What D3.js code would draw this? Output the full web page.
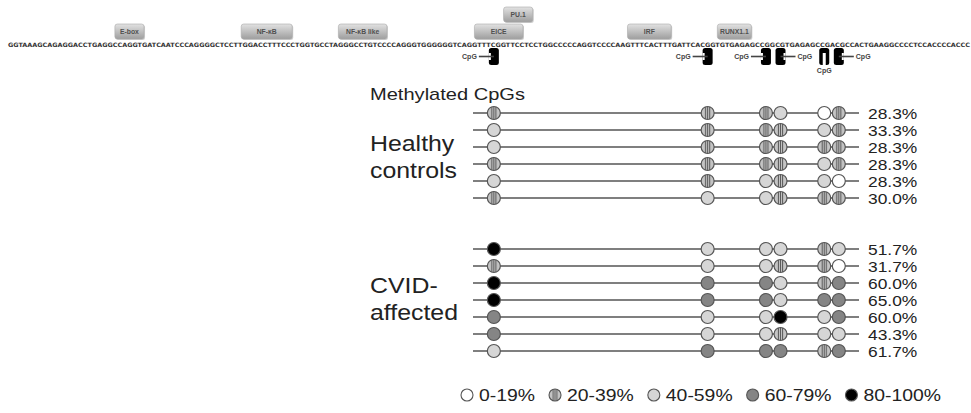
<!DOCTYPE html>
<html>
<head>
<meta charset="utf-8">
<script src="https://cdn.jsdelivr.net/npm/d3@7"></script>
<style>
  html, body { margin: 0; padding: 0; background: #fff; }
  svg { display: block; }
</style>
</head>
<body>
<svg id="chart" width="971" height="413"></svg>
<script>
// Promoter sequence (5'→3')
const sequence = "GGTAAAGCAGAGGACCTGAGGCCAGGTGATCAATCCCAGGGGCTCCTTGGACCTTTCCCTGGTGCCTAGGGCCTGTCCCCAGGGTGGGGGGTCAGGTTTCGGTTCCTCCTGGCCCCCAGGTCCCCAAGTTTCACTTTGATTCACGGTGTGAGAGCCGGCGTGAGAGCCGACGCCACTGAAGGCCCCTCCACCCCACCC";

// Transcription-factor binding motifs (base index ranges)
const motifNames  = ["E-box", "NF-κB", "NF-κB like", "EICE", "PU.1", "IRF", "RUNX1.1"];
const motifStarts = [22, 48, 68, 96, 102, 127.5, 146];
const motifEnds   = [28, 58.5, 78, 106, 108, 136.5, 153];

// CpG dinucleotides (base index of the C)
const cpgSites = [99, 143, 155, 158, 167, 170];

// Methylation classes
const classLabels = ["0-19%", "20-39%", "40-59%", "60-79%", "80-100%"];

// Per-subject methylation class at each CpG
const healthyRows = [
  [1, 1, 1, 2, 0, 1],
  [2, 1, 1, 1, 2, 1],
  [2, 1, 1, 1, 1, 1],
  [1, 1, 1, 1, 2, 1],
  [2, 1, 2, 1, 2, 0],
  [1, 2, 2, 1, 1, 1]
];
const healthyPct = [28.3, 33.3, 28.3, 28.3, 28.3, 30.0];

const cvidRows = [
  [4, 2, 2, 2, 1, 2],
  [1, 2, 2, 1, 1, 0],
  [4, 3, 3, 2, 1, 3],
  [4, 3, 3, 2, 3, 3],
  [3, 2, 2, 4, 2, 3],
  [3, 2, 2, 1, 2, 2],
  [2, 3, 3, 3, 1, 3]
];
const cvidPct = [51.7, 31.7, 60.0, 65.0, 60.0, 43.3, 61.7];

const groupNames = [["Healthy", "controls"], ["CVID-", "affected"]];

// ---------------------------------------------------------------
const svg = d3.select("#chart");
const FONT = "'Liberation Sans', Arial, sans-serif";
const WIDE = 1.18; // horizontal stretch applied to panel text

const x = d3.scaleLinear().domain([0, sequence.length]).range([8, 970]);
const cpgX = i => x(cpgSites[i] + 1);

// text helper: stretch glyphs horizontally by a factor
function wideText(sel, k = WIDE) {
  const w = sel.node().getComputedTextLength();
  sel.attr("textLength", w * k).attr("lengthAdjust", "spacingAndGlyphs");
  return w * k;
}

const defs = svg.append("defs");
const grad = defs.append("linearGradient").attr("id", "boxGrad")
  .attr("x1", 0).attr("y1", 0).attr("x2", 0).attr("y2", 1);
grad.append("stop").attr("offset", "0%").attr("stop-color", "#e2e2e2");
grad.append("stop").attr("offset", "100%").attr("stop-color", "#9e9e9e");

const stripe = defs.append("pattern").attr("id", "stripes")
  .attr("patternContentUnits", "objectBoundingBox")
  .attr("width", 1).attr("height", 1);
stripe.append("rect").attr("width", 1).attr("height", 1).attr("fill", "#c4c4c4");
[0.3, 0.46, 0.62].forEach(p =>
  stripe.append("rect").attr("x", p).attr("width", 0.08).attr("height", 1).attr("fill", "#5a5a5a"));

const classFill = ["#ffffff", "url(#stripes)", "#d6d6d6", "#858585", "#000000"];

// ---- sequence track --------------------------------------------
svg.append("text")
  .attr("x", x(0)).attr("y", 46.5)
  .attr("textLength", x(sequence.length) - x(0))
  .attr("lengthAdjust", "spacingAndGlyphs")
  .attr("font-family", "'DejaVu Sans', sans-serif")
  .attr("font-weight", "bold")
  .attr("font-size", 6)
  .attr("fill", "#333")
  .text(sequence);

// motif boxes; overlapping motifs stack upward
const tiers = [];
motifNames.forEach((name, i) => {
  let tier = 0;
  for (let j = 0; j < i; j++) {
    if (motifStarts[i] < motifEnds[j] && motifEnds[i] > motifStarts[j]) tier = Math.max(tier, tiers[j] + 1);
  }
  tiers.push(tier);
  const x0 = x(motifStarts[i]), x1 = x(motifEnds[i]);
  const y0 = 24 - tier * 17;
  const g = svg.append("g");
  g.append("rect").attr("x", x0 + 1).attr("y", y0 + 1).attr("width", x1 - x0).attr("height", 15)
    .attr("rx", 2.5).attr("fill", "#cfcfcf");
  g.append("rect").attr("x", x0).attr("y", y0).attr("width", x1 - x0).attr("height", 15)
    .attr("rx", 2.5).attr("fill", "url(#boxGrad)").attr("stroke", "#aaa").attr("stroke-width", 0.6);
  g.append("text").attr("x", (x0 + x1) / 2).attr("y", y0 + 10)
    .attr("text-anchor", "middle").attr("font-family", FONT).attr("font-size", 6.8)
    .attr("font-weight", "bold").attr("fill", "#505050").text(name);
});

// CpG markers
const cpgLabelSide = ["left", "left", "left", "right", "below", "right"];
cpgSites.forEach((s, i) => {
  const cx = cpgX(i);
  const side = cpgLabelSide[i];
  const g = svg.append("g");
  const bx = cx - 5, by = 48, bw = 10, bh = 17;
  g.append("rect").attr("x", bx).attr("y", by).attr("width", bw).attr("height", bh)
    .attr("rx", 2.5).attr("fill", "#000");
  if (side === "left" || side === "right") {
    const sx = side === "left" ? bx : bx + bw - 2;
    g.append("rect").attr("x", sx).attr("y", by + 5).attr("width", 2).attr("height", bh - 10).attr("fill", "#fff");
    const lx0 = side === "left" ? bx - 10 : bx + bw + 10;
    g.append("line").attr("x1", lx0).attr("x2", cx).attr("y1", by + bh / 2).attr("y2", by + bh / 2)
      .attr("stroke", "#444").attr("stroke-width", 1.6);
    g.append("text").attr("x", side === "left" ? lx0 - 2 : lx0 + 2).attr("y", by + bh / 2 + 2.4)
      .attr("text-anchor", side === "left" ? "end" : "start")
      .attr("font-family", FONT).attr("font-size", 7).attr("font-weight", "bold").attr("fill", "#444")
      .text("CpG");
  } else {
    g.append("rect").attr("x", bx + 3.5).attr("y", by + 5).attr("width", bw - 7).attr("height", bh - 5).attr("fill", "#fff");
    g.append("text").attr("x", cx).attr("y", by + bh + 8)
      .attr("text-anchor", "middle")
      .attr("font-family", FONT).attr("font-size", 7).attr("font-weight", "bold").attr("fill", "#444")
      .text("CpG");
  }
});

// ---- lollipop methylation panel --------------------------------
wideText(svg.append("text").attr("x", 370).attr("y", 100)
  .attr("font-family", FONT).attr("font-size", 17).attr("fill", "#222")
  .text("Methylated CpGs"));

// row positions: healthy rows 0..5, gap, CVID rows 8..14
const y = d3.scaleLinear().domain([0, 14]).range([113, 351]);
const groups = [
  { rows: healthyRows, pct: healthyPct, offset: 0 },
  { rows: cvidRows, pct: cvidPct, offset: 8 }
];
const lineX0 = 473, lineX1 = 859, r = 6.5;

groups.forEach((grp, gi) => {
  const first = y(grp.offset), last = y(grp.offset + grp.rows.length - 1);
  const mid = (first + last) / 2;
  const dy = gi === 0 ? 0 : -2;
  wideText(svg.append("text").attr("x", 370).attr("y", mid - 5 + dy)
    .attr("font-family", FONT).attr("font-size", 22).attr("fill", "#222").text(groupNames[gi][0]), 1.13);
  wideText(svg.append("text").attr("x", 370).attr("y", mid + 22 + dy)
    .attr("font-family", FONT).attr("font-size", 22).attr("fill", "#222").text(groupNames[gi][1]), 1.13);

  grp.rows.forEach((row, ri) => {
    const yy = y(grp.offset + ri);
    const g = svg.append("g");
    g.append("line").attr("x1", lineX0).attr("x2", lineX1).attr("y1", yy).attr("y2", yy)
      .attr("stroke", "#555").attr("stroke-width", 1.6);
    g.selectAll("circle").data(row).join("circle")
      .attr("cx", (d, i) => cpgX(i)).attr("cy", yy).attr("r", r)
      .attr("fill", d => classFill[d]).attr("stroke", "#555").attr("stroke-width", 1.2);
    wideText(g.append("text").attr("x", 868).attr("y", yy + 5.5)
      .attr("font-family", FONT).attr("font-size", 15.5).attr("fill", "#222")
      .text(grp.pct[ri].toFixed(1) + "%"), 1.12);
  });
});

// ---- legend -----------------------------------------------------
let lx = 467;
const ly = 395;
classLabels.forEach((lab, i) => {
  svg.append("circle").attr("cx", lx).attr("cy", ly).attr("r", 6)
    .attr("fill", classFill[i]).attr("stroke", "#555").attr("stroke-width", 1.1);
  const t = svg.append("text").attr("x", lx + 12).attr("y", ly + 6)
    .attr("font-family", FONT).attr("font-size", 17).attr("fill", "#222").text(lab);
  const w = wideText(t, 1.14);
  lx += 12 + w + 20;
});
</script>
</body>
</html>
